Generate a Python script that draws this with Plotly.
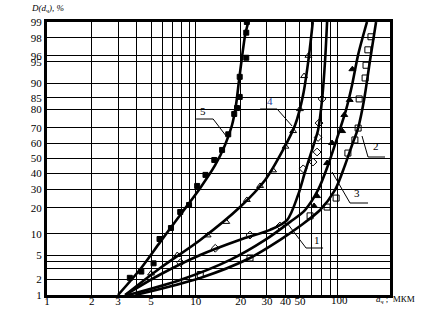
import plotly.graph_objects as go
from statistics import NormalDist

_nd = NormalDist()
def zq(p):
    return [_nd.inv_cdf(v / 100.0) for v in p]

# ---- data (d in um, D in %) ----
c5_line_d = [3.0, 4.2, 5.75, 7.85, 10.7, 13.5, 15.7, 17.5, 18.6, 19.5, 20.5, 21.4, 22.5]
c5_line_p = [1.0, 2.9, 7.7, 16.8, 30.8, 45.6, 59.1, 71.6, 81.9, 90.9, 96.1, 98.2, 99.0]
c5_pts_d = [3.6, 4.3, 5.2, 5.7, 6.8, 7.85, 9.0, 10.2, 11.6, 13.3, 15.0, 16.5, 18.1, 18.9, 19.7, 19.7, 21.8, 21.8, 22.0]
c5_pts_p = [2.1, 2.7, 3.7, 8.5, 11.8, 18.1, 21.4, 32.0, 39.0, 49.0, 55.8, 66.0, 77.6, 80.5, 85.3, 91.8, 95.7, 98.4, 99.0]

c4_line_d = [3.35, 5.76, 10.7, 19.8, 29.2, 38.5, 46.4, 52.5, 57.0, 61.0]
c4_line_p = [1.0, 3.1, 8.25, 20.4, 35.7, 55.8, 71.6, 86.0, 95.3, 99.0]
c4_pts_d = [5.0, 7.5, 12.0, 16.0, 22.0, 27.0, 33.0, 40.0, 45.0, 50.0, 53.3, 57.0]
c4_pts_p = [2.5, 5.0, 9.5, 14.0, 24.0, 32.0, 42.0, 58.0, 68.0, 80.0, 92.0, 96.0]

c1_line_d = [3.35, 5.76, 10.7, 19.8, 31.5, 41.0, 48.6, 54.1, 60.3, 66.2, 70.4, 73.8, 76.1]
c1_line_p = [1.0, 2.4, 5.0, 8.3, 11.2, 14.7, 26.7, 40.9, 55.8, 68.6, 84.1, 95.3, 99.0]
c1_pts_d = [7.9, 13.5, 23.1, 36.7, 52.6, 61.2, 65.2, 66.2, 67.2, 70.4]
c1_pts_p = [3.8, 6.3, 9.6, 12.5, 43.0, 47.6, 54.4, 64.0, 72.7, 84.5]

c3_line_d = [3.51, 7.85, 17.0, 29.2, 43.0, 54.1, 66.2, 77.3, 90.2, 102.0, 112.0, 122.9, 141.0]
c3_line_p = [1.0, 1.92, 4.2, 8.26, 14.0, 19.0, 29.6, 45.6, 65.5, 79.6, 89.5, 96.1, 99.0]
c3_pts_d = [62.2, 65.2, 76.1, 82.2, 96.1, 99.3, 108.0, 112.5]
c3_pts_p = [20.9, 26.1, 46.9, 60.4, 68.0, 77.1, 84.1, 93.6]

c2_line_d = [3.92, 10.7, 23.1, 36.8, 50.1, 68.3, 86.1, 100.5, 112.0, 122.9, 134.8, 147.9, 162.3]
c2_line_p = [1.0, 2.09, 4.5, 8.26, 12.5, 19.0, 29.6, 45.6, 59.1, 69.8, 84.1, 95.3, 99.0]
c2_pts_d = [10.7, 23.1, 58.5, 76.1, 87.5, 105.0, 117.0, 123.0, 125.0, 137.0, 139.0, 143.0, 150.0]
c2_pts_p = [2.4, 4.5, 16.4, 20.4, 25.0, 53.7, 62.4, 69.8, 84.5, 91.5, 94.4, 96.8, 98.1]

x_grid = [1, 2, 3, 4, 5, 6, 7, 8, 9, 10, 20, 30, 40, 50, 60, 70, 80, 90]
x_text = ["1", "2", "3", "", "5", "", "", "", "", "10", "20", "30", "40", "50", "", "", "", ""]
y_grid = [1, 2, 3, 4, 5, 10, 20, 30, 40, 50, 60, 70, 80, 85, 90, 95, 96, 98, 99]
y_text = ["1", "2", "", "", "5", "10", "20", "30", "40", "50", "60", "70", "80", "85", "90", "95", "96", "98", "99"]

SERIF = "Liberation Serif, Times New Roman, serif"

fig = go.Figure()

def add_curve(ld, lp, pd_, pp, symbol, size=5):
    fig.add_trace(go.Scatter(x=ld, y=zq(lp), mode="lines", line=dict(color="black", width=2.6, shape="spline", smoothing=0.8),
                             hoverinfo="skip", showlegend=False))
    fig.add_trace(go.Scatter(x=pd_, y=zq(pp), mode="markers",
                             marker=dict(symbol=symbol, size=size, color="black", line=dict(color="black", width=1)),
                             showlegend=False))

add_curve(c5_line_d, c5_line_p, c5_pts_d, c5_pts_p, "square", 5)
add_curve(c4_line_d, c4_line_p, c4_pts_d, c4_pts_p, "triangle-up-open", 6)
add_curve(c1_line_d, c1_line_p, c1_pts_d, c1_pts_p, "diamond-open", 6)
add_curve(c3_line_d, c3_line_p, c3_pts_d, c3_pts_p, "triangle-up", 6)
add_curve(c2_line_d, c2_line_p, c2_pts_d, c2_pts_p, "square-open", 6)

# layout helpers (pixel -> paper)
L, R, T, B = 46.7, 390.0, 22.0, 295.0
def pp_(x, y):
    return (x - L) / (R - L), (B - y) / (B - T)

leaders = {
    "5": ([(196, 119), (213, 119), (226, 136)], (203, 111), "black"),
    "4": ([(260, 109), (277, 109), (292, 126)], (270, 101), "#1f3f99"),
    "1": ([(287, 223), (306, 248), (323, 248)], (317, 240), "black"),
    "2": ([(362, 136), (368, 157), (385, 157)], (376, 146), "black"),
    "3": ([(332, 172), (350, 203), (368, 203)], (357, 193), "black"),
}
shapes = []
annotations = []
for lab, (pts, tpos, col) in leaders.items():
    for (a, b) in zip(pts[:-1], pts[1:]):
        x0, y0 = pp_(*a)
        x1, y1 = pp_(*b)
        shapes.append(dict(type="line", xref="paper", yref="paper", x0=x0, y0=y0, x1=x1, y1=y1,
                           line=dict(color="black", width=1)))
    tx, ty = pp_(*tpos)
    annotations.append(dict(text=lab, x=tx, y=ty, xref="paper", yref="paper", showarrow=False,
                            xanchor="center", yanchor="middle",
                            font=dict(family=SERIF, size=11, color=col)))

tx, ty = pp_(339, 300)
annotations.append(dict(text="100", x=tx, y=ty, xref="paper", yref="paper", showarrow=False,
                        xanchor="center", yanchor="middle",
                        font=dict(family=SERIF, size=11, color="black")))
tx, ty = pp_(29, 9)
annotations.append(dict(text="<i>D(d<sub>ч</sub>), %</i>", x=tx, y=ty, xref="paper", yref="paper", showarrow=False,
                        xanchor="left", yanchor="middle", font=dict(family=SERIF, size=9, color="black")))
tx, ty = pp_(374, 299)
annotations.append(dict(text="<i>d<sub>ч</sub></i> ;  МКМ", x=tx, y=ty, xref="paper", yref="paper", showarrow=False,
                        xanchor="left", yanchor="middle", font=dict(family=SERIF, size=9, color="black")))

fig.update_layout(
    width=443, height=324,
    margin=dict(l=47, r=53, t=22, b=29),
    paper_bgcolor="white", plot_bgcolor="white",
    shapes=shapes, annotations=annotations,
    xaxis=dict(type="log", range=[0, 2.304], tickvals=x_grid, ticktext=x_text,
               showgrid=True, gridcolor="black", gridwidth=1, zeroline=False,
               showline=True, linecolor="black", linewidth=3, mirror=True, ticks="",
               ticklabelstandoff=-6,
               tickfont=dict(family=SERIF, size=11, color="black")),
    yaxis=dict(range=zq([1, 99]), tickvals=zq(y_grid), ticktext=y_text,
               showgrid=True, gridcolor="black", gridwidth=1, zeroline=False,
               showline=True, linecolor="black", linewidth=3, mirror=True, ticks="",
               tickfont=dict(family=SERIF, size=11, color="black")),
)

fig.write_html("out.html")
